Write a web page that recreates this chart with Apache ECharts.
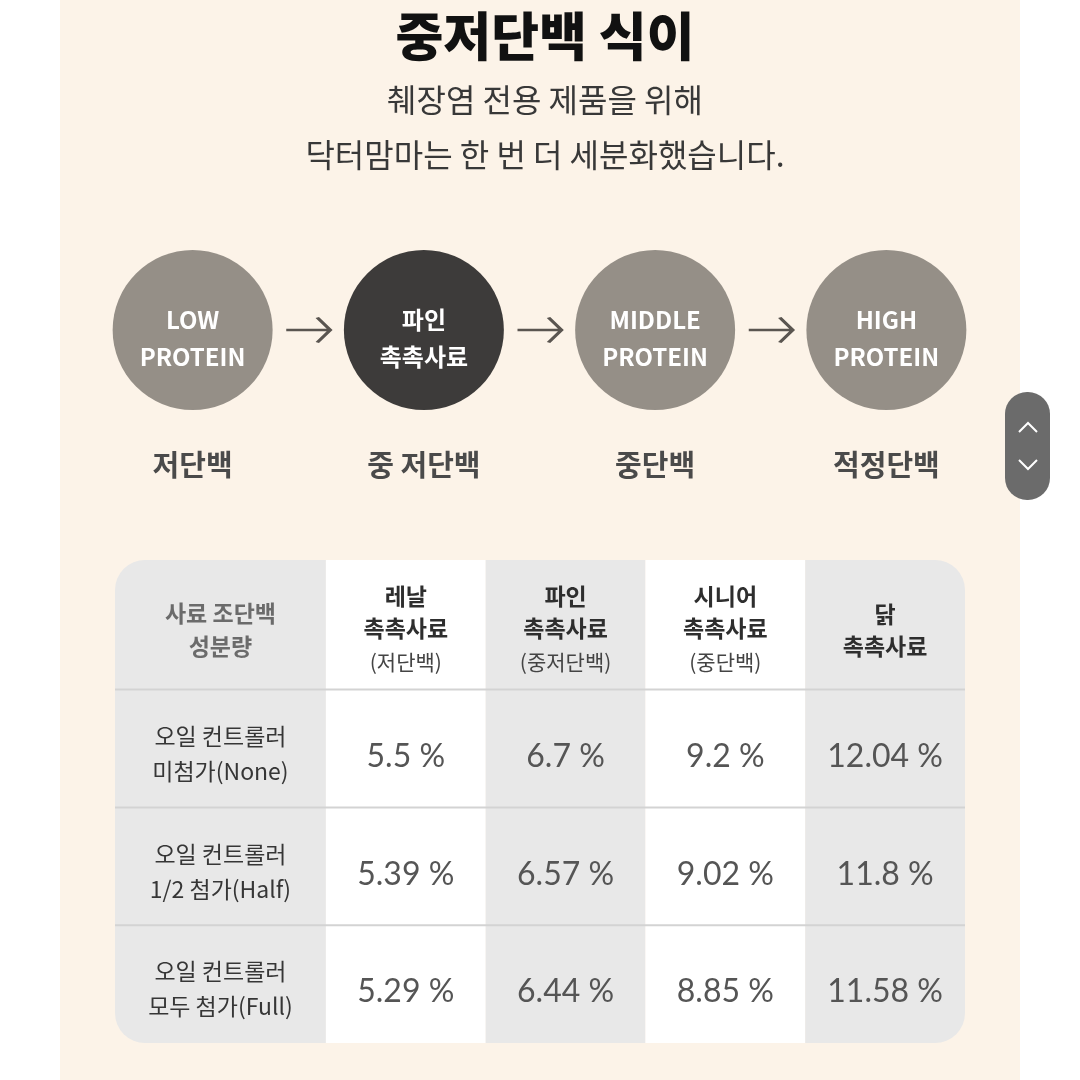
<!DOCTYPE html>
<html>
<head>
<meta charset="utf-8">
<script src="https://cdn.jsdelivr.net/npm/echarts@6/dist/echarts.min.js"></script>
<style>
  html, body { margin: 0; padding: 0; background: #ffffff; }
  #chart { width: 1080px; height: 1080px; }
</style>
</head>
<body>
<div id="chart"></div>
<script>
  // 단계 (원)
  const stages = ['저단백', '중 저단백', '중단백', '적정단백'];
  const stageBadges = ['LOW\nPROTEIN', '파인\n촉촉사료', 'MIDDLE\nPROTEIN', 'HIGH\nPROTEIN'];
  const highlightStage = 1;

  // 표
  const productNames = ['레날\n촉촉사료', '파인\n촉촉사료', '시니어\n촉촉사료', '닭\n촉촉사료'];
  const productLevels = ['(저단백)', '(중저단백)', '(중단백)', ''];
  const conditions = ['오일 컨트롤러\n미첨가(None)', '오일 컨트롤러\n1/2 첨가(Half)', '오일 컨트롤러\n모두 첨가(Full)'];
  const proteinNone = [5.5, 6.7, 9.2, 12.04];
  const proteinHalf = [5.39, 6.57, 9.02, 11.8];
  const proteinFull = [5.29, 6.44, 8.85, 11.58];
  const proteinRows = [proteinNone, proteinHalf, proteinFull];

  const KR = "'Noto Sans CJK KR', sans-serif";
  // 표 레이아웃 (축 단위)
  const colEdges = [0, 1.32, 2.32, 3.32, 4.32, 5.32];
  const rowEdges = [0, 1.1, 2.1, 3.1, 4.1];
  const cellGray = '#e8e8e8';
  const textShift = 5;

  const chart = echarts.init(document.getElementById('chart'));

  const cellData = [];
  proteinRows.forEach((row, r) => {
    row.forEach((v, c) => cellData.push([c, r, v]));
  });

  chart.setOption({
    backgroundColor: 'transparent',
    animation: false,
    title: {
      text: '중저단백 식이',
      subtext: '췌장염 전용 제품을 위해\n닥터맘마는 한 번 더 세분화했습니다.',
      left: 540,
      top: 0,
      textAlign: 'center',
      itemGap: 5,
      textStyle: { fontFamily: KR, fontSize: 52, fontWeight: 900, color: '#111', lineHeight: 62 },
      subtextStyle: { fontFamily: KR, fontSize: 32, color: '#383838', lineHeight: 55 }
    },
    graphic: [
      { type: 'rect', z: -10, shape: { x: 60, y: 0, width: 960, height: 1080 }, style: { fill: '#fcf3e8' } },
      { type: 'rect', z: 10, shape: { x: 1005, y: 392, width: 45, height: 108, r: 22 }, style: { fill: '#6b6b6b' } },
      { type: 'polyline', z: 11, shape: { points: [[1019, 432], [1028, 423], [1037, 432]] }, style: { stroke: '#fff', lineWidth: 2, fill: null } },
      { type: 'polyline', z: 11, shape: { points: [[1019, 460], [1028, 469], [1037, 460]] }, style: { stroke: '#fff', lineWidth: 2, fill: null } }
    ],
    grid: [
      { left: 77, top: 250, width: 925, height: 160 },
      { left: 115, top: 560, width: 850, height: 483 }
    ],
    xAxis: [
      {
        gridIndex: 0, type: 'category', data: stages, boundaryGap: true,
        axisLine: { show: false }, axisTick: { show: false }, splitLine: { show: false },
        axisLabel: { margin: 40, fontFamily: KR, fontSize: 29, fontWeight: 'bold', color: '#4a4a4a' }
      },
      { gridIndex: 0, type: 'value', min: -0.5, max: 3.5, show: false },
      { gridIndex: 1, type: 'value', min: 0, max: 5.32, show: false }
    ],
    yAxis: [
      { gridIndex: 0, type: 'value', min: -1, max: 1, show: false },
      { gridIndex: 1, type: 'value', min: 0, max: 4.1, inverse: true, show: false }
    ],
    series: [
      {
        type: 'scatter', xAxisIndex: 0, yAxisIndex: 0, symbolSize: 160,
        data: stages.map((s, i) => ({
          value: [s, 0],
          itemStyle: { color: i === highlightStage ? '#3d3b3a' : '#958f87', opacity: 1 }
        })),
        label: {
          show: true, position: 'inside', offset: [0, 8],
          formatter: (p) => stageBadges[p.dataIndex],
          color: '#fff', fontFamily: KR, fontSize: 24, fontWeight: 'bold', lineHeight: 37
        }
      },
      {
        type: 'scatter', xAxisIndex: 1, yAxisIndex: 0,
        symbol: 'path://M0,12 L44,12 M31,0 L44,12 L31,24',
        symbolSize: [44, 25],
        itemStyle: { color: 'none', borderColor: '#5a5550', borderWidth: 3, opacity: 1 },
        data: stages.slice(1).map((s, i) => [i + 0.5, 0])
      },
      // 열 배경
      {
        type: 'custom', xAxisIndex: 2, yAxisIndex: 1, z: 1,
        data: colEdges.slice(1).map((e, i) => [i, 0]),
        renderItem: (params, api) => {
          const i = api.value(0);
          const p0 = api.coord([colEdges[i], 0]);
          const p1 = api.coord([colEdges[i + 1], 4.1]);
          let r = 0;
          if (i === 0) r = [30, 0, 0, 30];
          if (i === colEdges.length - 2) r = [0, 30, 30, 0];
          return {
            type: 'rect',
            shape: { x: p0[0], y: p0[1], width: p1[0] - p0[0], height: p1[1] - p0[1], r: r },
            style: { fill: i % 2 === 0 ? cellGray : '#ffffff' }
          };
        }
      },
      // 행 구분선
      {
        type: 'custom', xAxisIndex: 2, yAxisIndex: 1, z: 2,
        data: rowEdges.slice(1, -1).map((e) => [0, e]),
        renderItem: (params, api) => {
          const a = api.coord([0, api.value(1)]);
          const b = api.coord([5.32, api.value(1)]);
          return {
            type: 'line',
            shape: { x1: a[0], y1: a[1], x2: b[0], y2: b[1] },
            style: { stroke: '#d3d3d3', lineWidth: 2 }
          };
        }
      },
      // 머리글
      {
        type: 'custom', xAxisIndex: 2, yAxisIndex: 1, z: 3,
        data: [-1].concat(productNames.map((n, i) => i)).map((i) => [i, 0]),
        renderItem: (params, api) => {
          const c = api.value(0);
          const cx = (colEdges[c + 1] + colEdges[c + 2]) / 2;
          const pt = api.coord([cx, (rowEdges[0] + rowEdges[1]) / 2]);
          let text;
          if (c < 0) {
            text = '{g|사료 조단백}\n{g|성분량}';
          } else {
            text = productNames[c].split('\n').map((t) => '{b|' + t + '}').join('\n');
            if (productLevels[c]) text += '\n{s|' + productLevels[c] + '}';
          }
          return {
            type: 'text',
            x: pt[0], y: pt[1] + textShift,
            style: {
              text: text, align: 'center', verticalAlign: 'middle',
              rich: {
                g: { fontFamily: KR, fontSize: 23, fontWeight: 'bold', fill: '#6b6b6b', lineHeight: 33 },
                b: { fontFamily: KR, fontSize: 23, fontWeight: 'bold', fill: '#2e2e2e', lineHeight: 32 },
                s: { fontFamily: KR, fontSize: 21, fill: '#444', lineHeight: 35 }
              }
            }
          };
        }
      },
      // 행 제목
      {
        type: 'custom', xAxisIndex: 2, yAxisIndex: 1, z: 3,
        data: conditions.map((c, i) => [0, i]),
        renderItem: (params, api) => {
          const r = api.value(1);
          const pt = api.coord([(colEdges[0] + colEdges[1]) / 2, (rowEdges[r + 1] + rowEdges[r + 2]) / 2]);
          return {
            type: 'text',
            x: pt[0], y: pt[1] + textShift,
            style: {
              text: conditions[r], align: 'center', verticalAlign: 'middle',
              fontFamily: KR, fontSize: 23, fill: '#363636', lineHeight: 35
            }
          };
        }
      },
      // 값
      {
        type: 'custom', xAxisIndex: 2, yAxisIndex: 1, z: 3,
        data: cellData,
        renderItem: (params, api) => {
          const c = api.value(0);
          const r = api.value(1);
          const v = api.value(2);
          const pt = api.coord([(colEdges[c + 1] + colEdges[c + 2]) / 2, (rowEdges[r + 1] + rowEdges[r + 2]) / 2]);
          return {
            type: 'text',
            x: pt[0], y: pt[1] + 8,
            style: {
              text: v + ' %', align: 'center', verticalAlign: 'middle',
              fontFamily: 'Lato, sans-serif', fontSize: 32, fill: '#555555'
            }
          };
        }
      }
    ]
  });
</script>
</body>
</html>
